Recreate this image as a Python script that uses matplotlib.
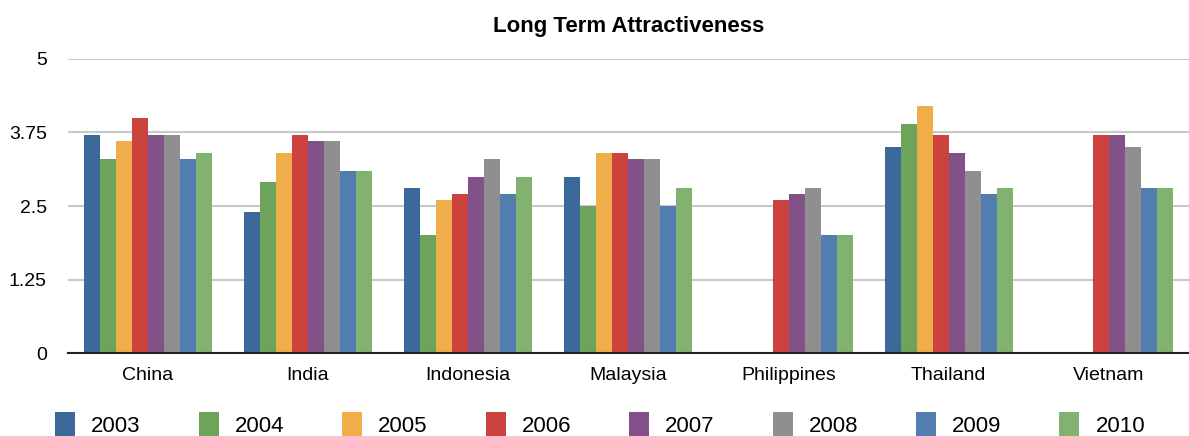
import matplotlib
matplotlib.use("Agg")
import matplotlib.pyplot as plt
import numpy as np

# -----------------------------------
# Data
# -----------------------------------
countries = ["China", "India", "Indonesia", "Malaysia", "Philippines", "Thailand", "Vietnam"]
years = ["2003", "2004", "2005", "2006", "2007", "2008", "2009", "2010"]

nan = np.nan
v2003 = [3.7, 2.4, 2.8, 3.0, nan, 3.5, nan]
v2004 = [3.3, 2.9, 2.0, 2.5, nan, 3.9, nan]
v2005 = [3.6, 3.4, 2.6, 3.4, nan, 4.2, nan]
v2006 = [4.0, 3.7, 2.7, 3.4, 2.6, 3.7, 3.7]
v2007 = [3.7, 3.6, 3.0, 3.3, 2.7, 3.4, 3.7]
v2008 = [3.7, 3.6, 3.3, 3.3, 2.8, 3.1, 3.5]
v2009 = [3.3, 3.1, 2.7, 2.5, 2.0, 2.7, 2.8]
v2010 = [3.4, 3.1, 3.0, 2.8, 2.0, 2.8, 2.8]
series = [v2003, v2004, v2005, v2006, v2007, v2008, v2009, v2010]

colors = ["#3b6a9a", "#6ea459", "#f0ae4b", "#cb423f", "#835189",
          "#8f8f8f", "#517eaf", "#82b26f"]

yticks = [0, 1.25, 2.5, 3.75, 5]
ytick_labels = ["0", "1.25", "2.5", "3.75", "5"]

plt.rcParams["font.family"] = ["Liberation Sans", "DejaVu Sans"]

# -----------------------------------
# Figure
# -----------------------------------
fig = plt.figure(figsize=(11.89, 4.36), dpi=100)
ax = fig.add_axes([0.057, 0.19, 0.943, 0.675])

x = np.arange(len(countries))
bar_w = 0.1
for i, vals in enumerate(series):
    offset = (i - 3.5) * bar_w
    ax.bar(x + offset, vals, width=bar_w, color=colors[i], label=years[i],
           zorder=3, linewidth=0)

ax.set_xlim(-0.5, len(countries) - 0.5)
ax.set_ylim(0, 5)
ax.set_yticks(yticks)
ax.set_yticklabels(ytick_labels, fontsize=14)
ax.set_xticks(x)
ax.set_xticklabels(countries, fontsize=14)
ax.tick_params(axis="x", length=0, pad=10)
ax.tick_params(axis="y", length=0, pad=15)

# Gridlines
ax.grid(axis="y", color="#c8c8c8", linewidth=1.5, zorder=0)
for s in ["top", "right", "left"]:
    ax.spines[s].set_visible(False)
ax.spines["bottom"].set_color("#222222")
ax.spines["bottom"].set_linewidth(1.5)
ax.spines["bottom"].set_zorder(4)

ax.set_title("Long Term Attractiveness", fontsize=16, fontweight="bold", pad=19)

# -----------------------------------
# Legend
# -----------------------------------
fig.legend(loc="center left", bbox_to_anchor=(0.037, 0.026), ncol=8,
           frameon=False, fontsize=16, handlelength=0.9, handleheight=1.3,
           handletextpad=0.73, columnspacing=2.6, borderpad=0)

fig.savefig("out.png", dpi=100)
